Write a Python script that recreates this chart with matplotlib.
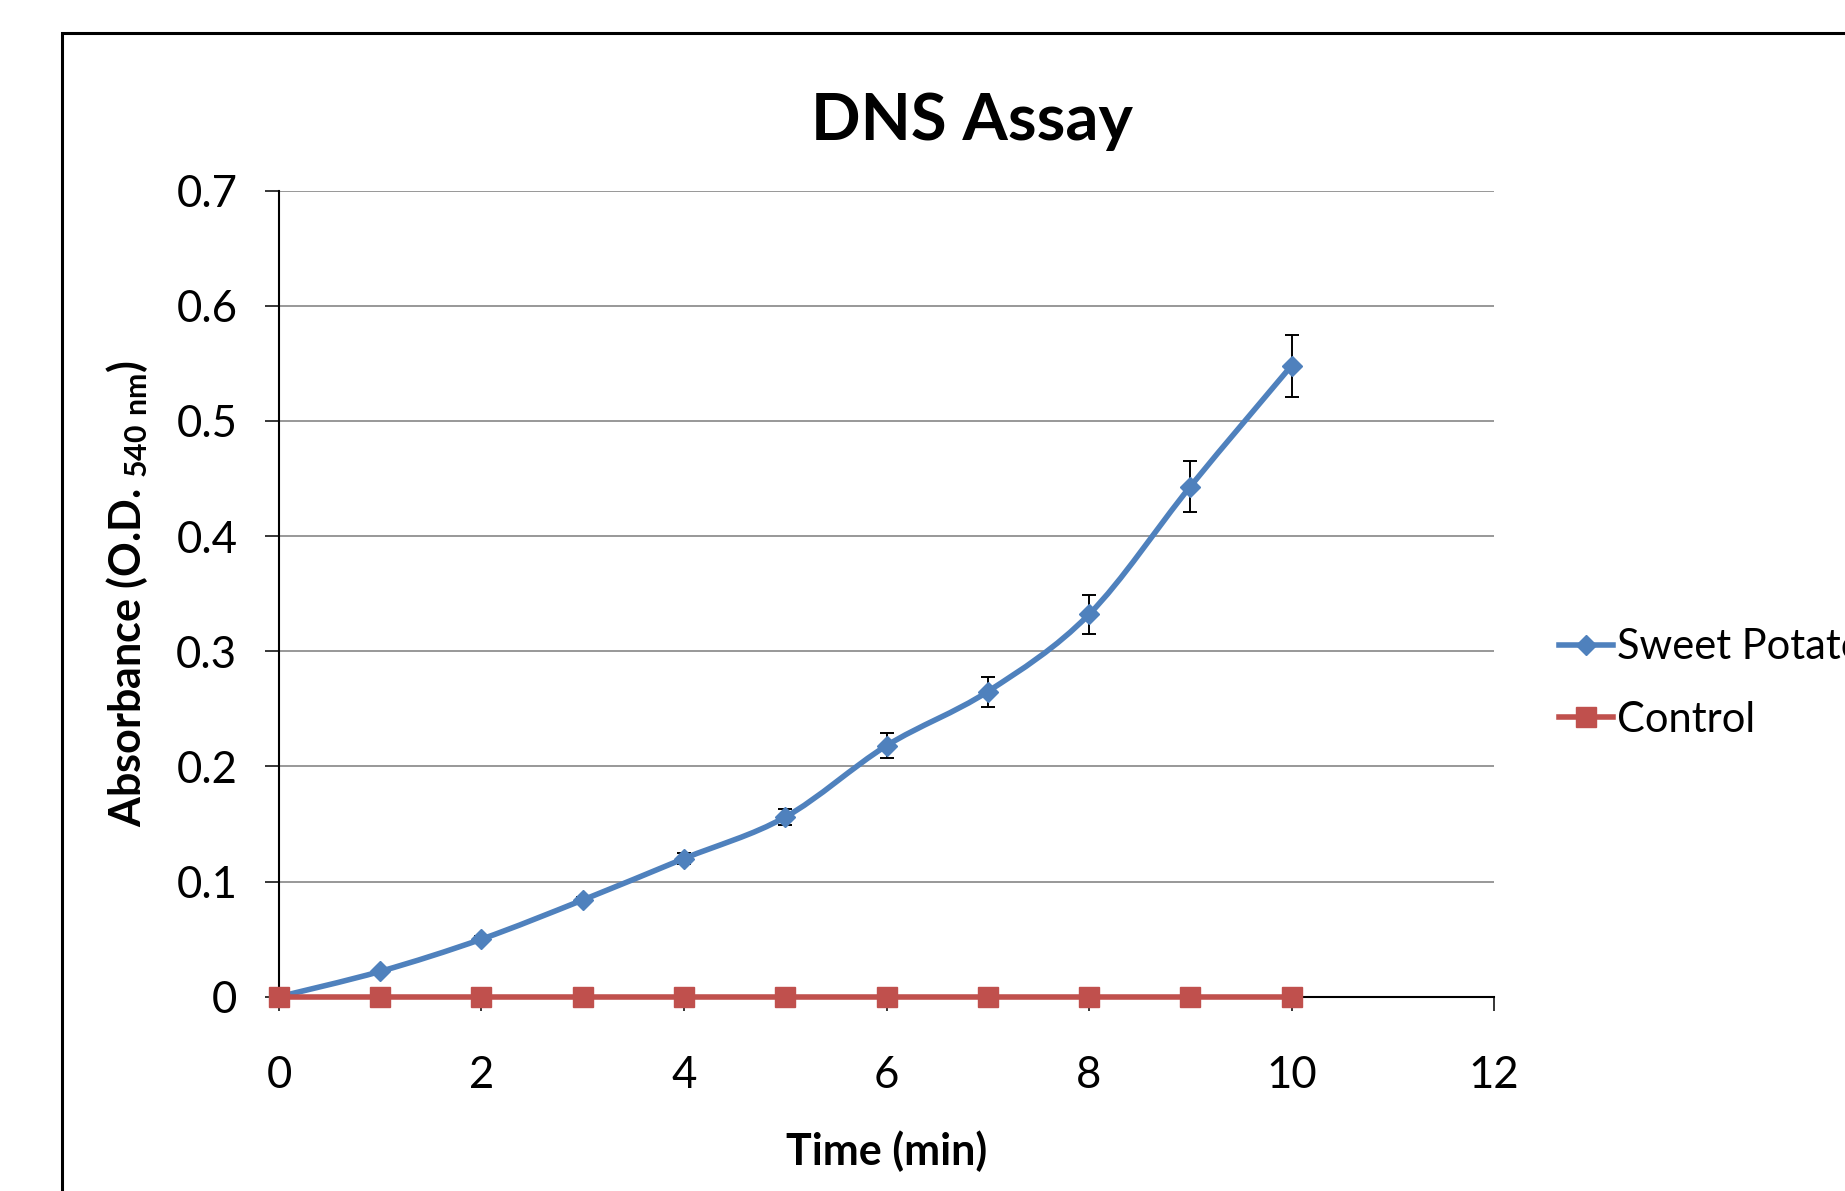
import numpy as np
import matplotlib.pyplot as plt
from matplotlib.path import Path
from matplotlib.patches import PathPatch, Rectangle
from matplotlib.lines import Line2D

plt.rcParams['font.family'] = ['Lato', 'DejaVu Sans']
plt.rcParams['mathtext.fontset'] = 'custom'
plt.rcParams['mathtext.rm'] = 'Lato'
plt.rcParams['mathtext.bf'] = 'Lato:bold'

# values
time_min = [0, 1, 2, 3, 4, 5, 6, 7, 8, 9, 10]
sweet_potato = [0.0, 0.022, 0.050, 0.084, 0.120, 0.156, 0.218, 0.265, 0.332, 0.443, 0.548]
sweet_potato_err = [0.0, 0.002, 0.003, 0.003, 0.005, 0.007, 0.011, 0.013, 0.017, 0.022, 0.027]
control = [0, 0, 0, 0, 0, 0, 0, 0, 0, 0, 0]

x_ticks = [0, 2, 4, 6, 8, 10, 12]
y_ticks = [0, 0.1, 0.2, 0.3, 0.4, 0.5, 0.6, 0.7]
y_tick_labels = ['0', '0.1', '0.2', '0.3', '0.4', '0.5', '0.6', '0.7']

blue = '#4F81BD'
red = '#C0504D'


def smooth_path(xs, ys):
    # excel-like smoothed line: cubic bezier through the points
    pts = np.column_stack([xs, ys]).astype(float)
    n = len(pts)
    verts = [pts[0]]
    codes = [Path.MOVETO]
    for i in range(n - 1):
        p0 = pts[max(i - 1, 0)]
        p1 = pts[i]
        p2 = pts[i + 1]
        p3 = pts[min(i + 2, n - 1)]
        verts += [p1 + (p2 - p0) / 6, p2 - (p3 - p1) / 6, p2]
        codes += [Path.CURVE4] * 3
    return Path(verts, codes)


fig = plt.figure(figsize=(18.45, 11.91), dpi=100)

# chart border (cut off on right and bottom in the original)
fig.patches.append(Rectangle((0.0336, -0.2), 1.5, 0.972 + 0.2, transform=fig.transFigure,
                             fill=False, ec='black', lw=2.2))

ax = fig.add_axes([0.1512, 0.1631, 0.6586, 0.6769])

ax.errorbar(time_min, sweet_potato, yerr=sweet_potato_err, fmt='none', ecolor='black',
            elinewidth=1.4, capsize=5, capthick=1.4, zorder=2, clip_on=False)
ax.add_patch(PathPatch(smooth_path(time_min, sweet_potato), fill=False, ec=blue, lw=4,
                       capstyle='round', joinstyle='round', zorder=3, clip_on=False))
ax.plot(time_min, sweet_potato, ls='none', marker='D', ms=10, color=blue, zorder=4, clip_on=False)
ax.plot(time_min, control, ls='-', lw=4, marker='s', ms=14, color=red, zorder=5, clip_on=False)

ax.set_xlim(0, 12)
ax.set_ylim(0, 0.7)
ax.set_xticks(x_ticks)
ax.set_yticks(y_ticks)
ax.set_yticklabels(y_tick_labels)
ax.tick_params(direction='out', length=10, width=1.1, labelsize=31.5, color='black')
ax.tick_params(axis='y', pad=20)
ax.tick_params(axis='x', pad=32)

for s in ['top', 'right']:
    ax.spines[s].set_visible(False)
for s in ['left', 'bottom']:
    ax.spines[s].set_linewidth(1.5)
ax.yaxis.grid(True, color='#868686', lw=1.2)
ax.set_axisbelow(True)

ax.set_xlabel('Time (min)', fontsize=31, fontweight='bold')
ax.xaxis.set_label_coords(0.5, -0.191)
ax.xaxis.label.set_va('center')
ax.set_ylabel(r'Absorbance (O.D. $_{\mathbf{540\ nm}}$)', fontsize=31, fontweight='bold')
ax.yaxis.set_label_coords(-0.125, 0.5)
ax.yaxis.label.set_va('center')

fig.text(0.527, 0.898, 'DNS Assay', ha='center', va='center', fontsize=47, fontweight='bold')

handles = [Line2D([], [], color=blue, lw=4, marker='D', ms=10),
           Line2D([], [], color=red, lw=4, marker='s', ms=14)]
fig.legend(handles, ['Sweet Potato', 'Control'], loc='center left',
           bbox_to_anchor=(0.845, 0.426), frameon=False, fontsize=30,
           borderpad=0, borderaxespad=0, handlelength=1.3, handletextpad=0.1,
           labelspacing=0.83)

fig.savefig('out.png', dpi=100)
